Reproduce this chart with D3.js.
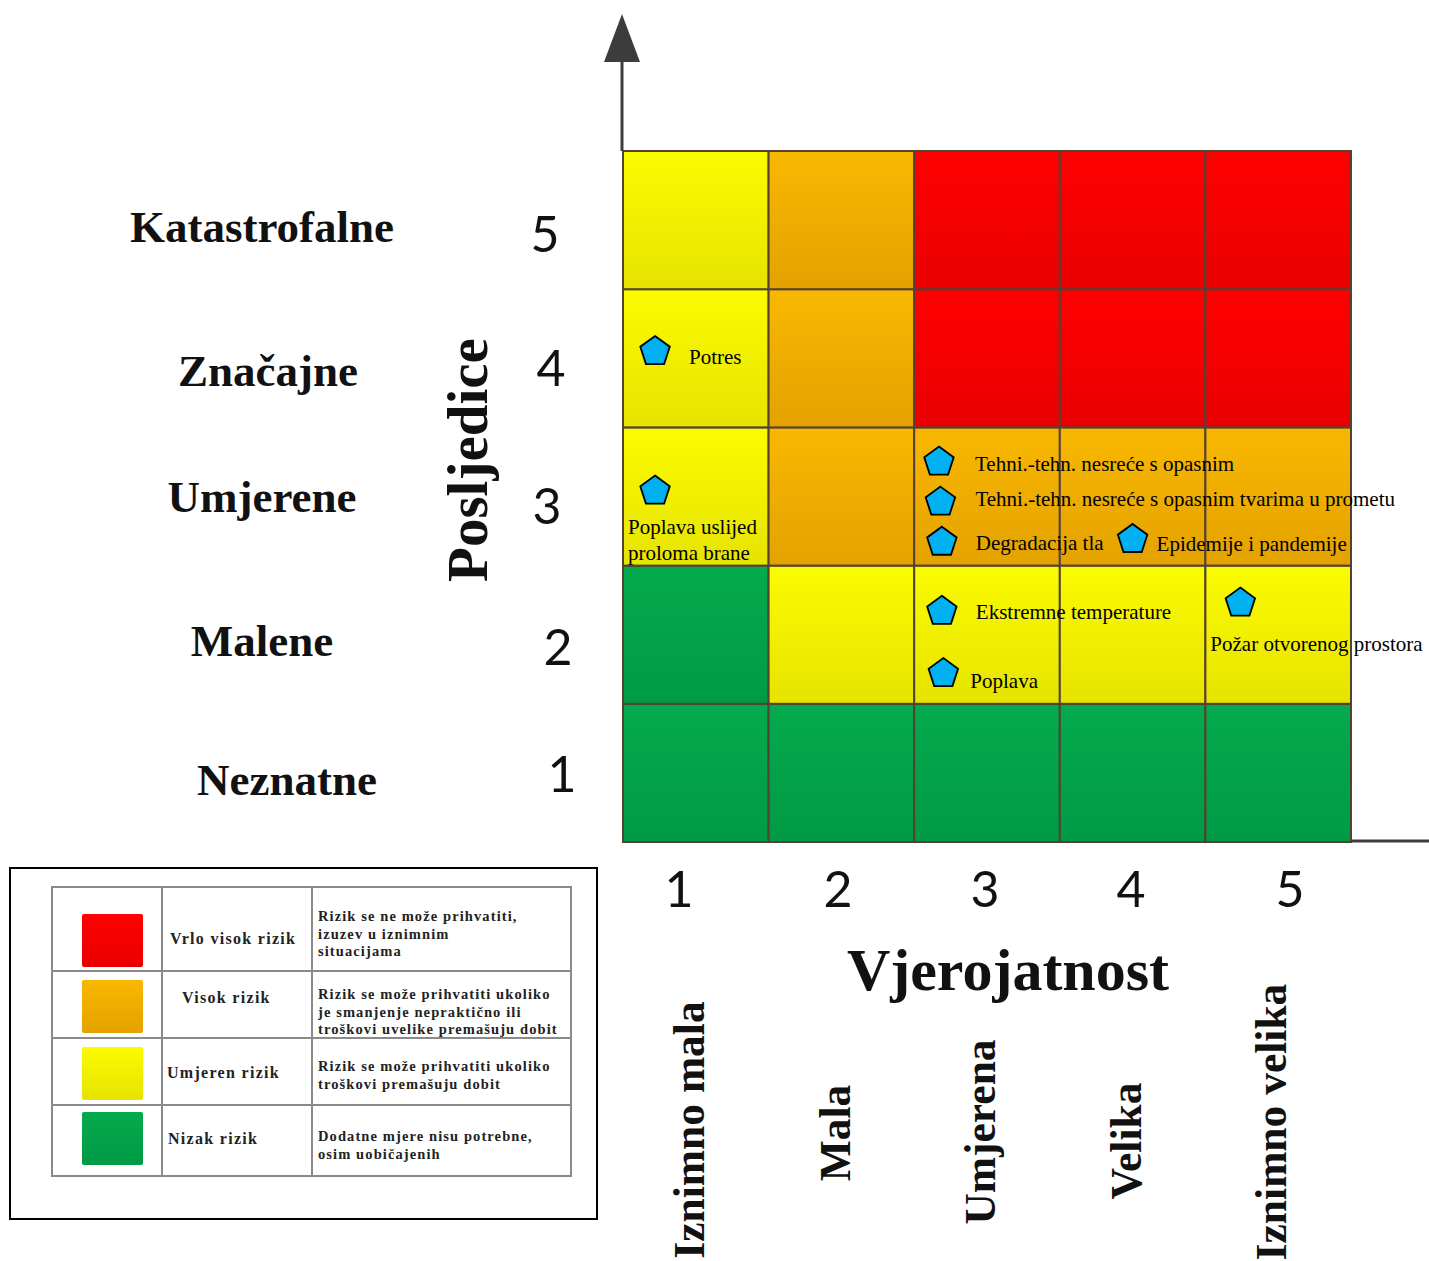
<!DOCTYPE html>
<html>
<head>
<meta charset="utf-8">
<script src="https://cdn.jsdelivr.net/npm/d3@7/dist/d3.min.js"></script>
<style>
  html, body { margin: 0; padding: 0; background: #fff; }
  svg { display: block; }
</style>
</head>
<body>
<svg id="chart" width="1429" height="1261"></svg>
<script>
// ---------- DATA ----------
const likelihoodLevels = [1, 2, 3, 4, 5];
const likelihoodLabels = ["Iznimno mala", "Mala", "Umjerena", "Velika", "Iznimno velika"];
const consequenceLevels = [1, 2, 3, 4, 5];
const consequenceLabels = ["Neznatne", "Malene", "Umjerene", "Značajne", "Katastrofalne"];

// risk class per cell: rows = consequence 1..5, columns = likelihood 1..5
const riskRows = [
  ["nizak", "nizak", "nizak", "nizak", "nizak"],            // 1
  ["nizak", "umjeren", "umjeren", "umjeren", "umjeren"],    // 2
  ["umjeren", "visok", "visok", "visok", "visok"],          // 3
  ["umjeren", "visok", "vrlo", "vrlo", "vrlo"],             // 4
  ["umjeren", "visok", "vrlo", "vrlo", "vrlo"]              // 5
];

// hazards: position on likelihood / consequence scales
const hazardNames = [
  "Potres",
  "Poplava uslijed|proloma brane",
  "Tehni.-tehn. nesreće s opasnim",
  "Tehni.-tehn. nesreće s opasnim tvarima u prometu",
  "Degradacija tla",
  "Epidemije i pandemije",
  "Ekstremne temperature",
  "Poplava",
  "Požar otvorenog prostora"
];
const hazardLikelihood = [0.72, 0.72, 2.67, 2.68, 2.69, 4.00, 2.69, 2.70, 4.74];
const hazardConsequence = [4.06, 3.05, 3.26, 2.97, 2.68, 2.70, 2.18, 1.73, 2.24];
// label placement relative to marker (layout)
const hazardLabelDx = [34, -27, 36, 35, 34, 24, 34, 27, -30];
const hazardLabelDy = [14, 44, 10, 5, 9, 13, 9, 16, 49];

// legend
const legendClasses = ["vrlo", "visok", "umjeren", "nizak"];
const legendNames = ["Vrlo visok rizik", "Visok rizik", "Umjeren rizik", "Nizak rizik"];
const legendDescriptions = [
  ["Rizik se ne može prihvatiti,", "izuzev u iznimnim", "situacijama"],
  ["Rizik se može prihvatiti ukoliko", "je smanjenje nepraktično ili", "troškovi uvelike premašuju dobit"],
  ["Rizik se može prihvatiti ukoliko", "troškovi premašuju dobit"],
  ["Dodatne mjere nisu potrebne,", "osim uobičajenih"]
];

// ---------- STYLE / LAYOUT ----------
const riskColors = {
  vrlo:    ["#ff0000", "#ea0000"],
  visok:   ["#f8b800", "#e4a200"],
  umjeren: ["#fbfb00", "#e6e400"],
  nizak:   ["#05aa4e", "#009a45"]
};
const serif = "'Liberation Serif', 'Times New Roman', serif";
const sans = "Lato, 'Open Sans', sans-serif";
const yLabelX = [287, 262, 262, 268, 262];
const yLabelDy = [22, 21, 15, 28, 22];
const yNumX = [562, 558, 547, 551, 545];
const yNumDy = [19, 30, 27, 28, 32];
const xNumX = [679, 838, 985, 1131, 1290];
const xLabelCy = [1130, 1133, 1132, 1141, 1122];

const svg = d3.select("#chart");
const defs = svg.append("defs");
Object.entries(riskColors).forEach(([k, c]) => {
  const g = defs.append("linearGradient").attr("id", "g-" + k)
    .attr("x1", 0).attr("y1", 0).attr("x2", 0).attr("y2", 1);
  g.append("stop").attr("offset", "0%").attr("stop-color", c[0]);
  g.append("stop").attr("offset", "100%").attr("stop-color", c[1]);
});

// ---------- SCALES ----------
const x = d3.scaleLinear().domain([0.5, 5.5]).range([623, 1351]);
const y = d3.scaleLinear().domain([0.5, 5.5]).range([842, 151]);
const cw = x(1.5) - x(0.5);
const ch = y(0.5) - y(1.5);

// ---------- CELLS ----------
const cells = [];
riskRows.forEach((row, ri) => row.forEach((cls, ci) => {
  cells.push({ l: likelihoodLevels[ci], c: consequenceLevels[ri], cls });
}));
svg.append("g").selectAll("rect").data(cells).join("rect")
  .attr("x", d => x(d.l - 0.5))
  .attr("y", d => y(d.c + 0.5))
  .attr("width", cw)
  .attr("height", ch)
  .attr("fill", d => `url(#g-${d.cls})`)
  .attr("stroke", "#544232")
  .attr("stroke-width", 2);

// ---------- AXES ----------
const axisColor = "#3c3c3c";
svg.append("line")
  .attr("x1", x(0.5) - 1).attr("x2", x(0.5) - 1)
  .attr("y1", y(5.5)).attr("y2", 55)
  .attr("stroke", axisColor).attr("stroke-width", 3);
svg.append("path")
  .attr("d", `M${x(0.5) - 1},14 L${x(0.5) + 17},62 L${x(0.5) - 19},62 Z`)
  .attr("fill", axisColor);
svg.append("line")
  .attr("x1", x(5.5)).attr("x2", 1429)
  .attr("y1", y(0.5) - 1).attr("y2", y(0.5) - 1)
  .attr("stroke", axisColor).attr("stroke-width", 3);

// Y numbers and labels
svg.append("g").selectAll("text").data(consequenceLevels).join("text")
  .attr("x", (d, i) => yNumX[i])
  .attr("y", (d, i) => y(d) + yNumDy[i])
  .attr("text-anchor", "middle")
  .attr("font-family", sans)
  .attr("font-size", 50)
  .attr("fill", "#111")
  .text(d => d);
svg.append("g").selectAll("text").data(consequenceLabels).join("text")
  .attr("x", (d, i) => yLabelX[i])
  .attr("y", (d, i) => y(consequenceLevels[i]) + yLabelDy[i])
  .attr("text-anchor", "middle")
  .attr("font-family", serif)
  .attr("font-weight", "bold")
  .attr("font-size", 45)
  .attr("fill", "#111")
  .text(d => d);
svg.append("text")
  .attr("transform", `translate(487,460) rotate(-90)`)
  .attr("text-anchor", "middle")
  .attr("font-family", serif)
  .attr("font-weight", "bold")
  .attr("font-size", 57)
  .attr("fill", "#111")
  .text("Posljedice");

// X numbers and labels
svg.append("g").selectAll("text").data(likelihoodLevels).join("text")
  .attr("x", (d, i) => xNumX[i])
  .attr("y", 907)
  .attr("text-anchor", "middle")
  .attr("font-family", sans)
  .attr("font-size", 50)
  .attr("fill", "#111")
  .text(d => d);
svg.append("text")
  .attr("x", 1008).attr("y", 990)
  .attr("text-anchor", "middle")
  .attr("font-family", serif)
  .attr("font-weight", "bold")
  .attr("font-size", 60)
  .attr("fill", "#111")
  .text("Vjerojatnost");
svg.append("g").selectAll("text").data(likelihoodLabels).join("text")
  .attr("transform", (d, i) => `translate(${x(likelihoodLevels[i]) - 7},${xLabelCy[i]}) rotate(-90)`)
  .attr("dy", "0.35em")
  .attr("text-anchor", "middle")
  .attr("font-family", serif)
  .attr("font-weight", "bold")
  .attr("font-size", 43.5)
  .attr("fill", "#111")
  .text(d => d);

// ---------- HAZARDS ----------
const pent = d3.range(5).map(k => {
  const a = -Math.PI / 2 + k * 2 * Math.PI / 5;
  return [15.5 * Math.cos(a), 15.5 * Math.sin(a) + 1.5];
});
const hz = svg.append("g").selectAll("g").data(hazardNames).join("g")
  .attr("transform", (d, i) => `translate(${x(hazardLikelihood[i])},${y(hazardConsequence[i])})`);
hz.append("path")
  .attr("d", "M" + pent.map(p => p.join(",")).join("L") + "Z")
  .attr("fill", "#00b0f0")
  .attr("stroke", "#000")
  .attr("stroke-width", 1.8)
  .attr("stroke-linejoin", "miter");
hz.append("text")
  .attr("font-family", serif)
  .attr("font-size", 21)
  .attr("fill", "#000")
  .each(function (d, i) {
    const t = d3.select(this);
    d.split("|").forEach((line, j) => {
      t.append("tspan")
        .attr("x", hazardLabelDx[i])
        .attr("y", hazardLabelDy[i] + j * 26)
        .text(line);
    });
  });

// ---------- LEGEND ----------
const lg = svg.append("g");
lg.append("rect").attr("x", 10).attr("y", 868).attr("width", 587).attr("height", 351)
  .attr("fill", "#fff").attr("stroke", "#000").attr("stroke-width", 2);
const tbl = lg.append("g");
tbl.append("rect").attr("x", 52).attr("y", 887).attr("width", 519).attr("height", 289)
  .attr("fill", "none").attr("stroke", "#8a8a8a").attr("stroke-width", 2);
[162, 312].forEach(cx => tbl.append("line").attr("x1", cx).attr("x2", cx)
  .attr("y1", 887).attr("y2", 1176).attr("stroke", "#8a8a8a").attr("stroke-width", 2));
[971, 1038, 1105].forEach(ry => tbl.append("line").attr("x1", 52).attr("x2", 571)
  .attr("y1", ry).attr("y2", ry).attr("stroke", "#8a8a8a").attr("stroke-width", 2));

const swatchY = [914, 980, 1047, 1112];
lg.append("g").selectAll("rect").data(legendClasses).join("rect")
  .attr("x", 82).attr("y", (d, i) => swatchY[i])
  .attr("width", 61).attr("height", 53)
  .attr("rx", 2)
  .attr("fill", d => `url(#g-${d})`);
const nameX = [170, 182, 167, 168];
const nameY = [944, 1003, 1078, 1144];
lg.append("g").selectAll("text").data(legendNames).join("text")
  .attr("x", (d, i) => nameX[i]).attr("y", (d, i) => nameY[i])
  .attr("font-family", serif).attr("font-weight", "bold").attr("font-size", 16)
  .attr("letter-spacing", 1.3)
  .attr("fill", "#222")
  .text(d => d);
const descY = [921, 999, 1071, 1141];
lg.append("g").selectAll("text").data(legendDescriptions).join("text")
  .attr("font-family", serif).attr("font-weight", "bold").attr("font-size", 14.5)
  .attr("letter-spacing", 1.1)
  .attr("fill", "#222")
  .each(function (d, i) {
    const t = d3.select(this);
    d.forEach((line, j) => t.append("tspan").attr("x", 318).attr("y", descY[i] + j * 17.5).text(line));
  });
</script>
</body>
</html>
